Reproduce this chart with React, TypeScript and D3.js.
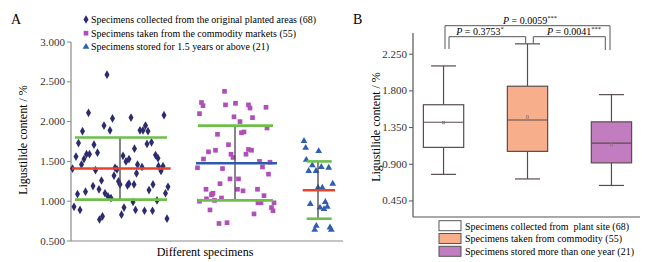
import React from "react";
import * as d3 from "d3";

// ---------- Panel A data (jitter position, ligustilide %) ----------
const groupAX = [107,88.5,164,112.5,131,104,145.5,82.5,110,140,143,148,78.5,94,134.5,147,151.5,76,84,86.5,89.5,81.5,97.5,72.5,95.5,123,126,129,137.5,136.5,142,155.5,158,158.5,161,163,115,117,93,99,101.5,114,118.5,120,127.5,129,134,153,168,77.5,85.5,105,108,111,149,165.5,74,80,124,133,135.5,144.5,152.5,157,121.5,99.5,102.5,167];
const groupAV = [2.59,2.11,2.08,2.04,2.05,1.95,1.95,1.88,1.89,1.89,1.89,1.88,1.73,1.71,1.66,1.72,1.74,1.56,1.53,1.59,1.59,1.46,1.61,1.41,1.39,1.57,1.50,1.53,1.46,1.35,1.43,1.58,1.54,1.44,1.38,1.44,1.42,1.40,1.19,1.15,1.26,1.32,1.25,1.21,1.20,1.22,1.21,1.21,1.18,1.09,1.12,1.10,1.06,1.04,1.14,1.10,0.93,0.89,0.92,0.99,0.89,0.88,0.88,1.01,0.83,0.77,0.81,0.78];

const groupBX = [224.5,201.5,203,225.5,235.5,248.5,250,266,199.5,234,252.5,240,267,217.5,241.5,244,228.5,208.5,215.5,231,246,248.5,251.5,203.5,233,259.5,262.5,270,222.5,197.5,268.5,230,238.5,220,206,237.5,243,257.5,213,211.5,206.5,214.5,221.5,264,258,261,274,271.5,273,210,254,219,227,199.5,212];
const groupBV = [2.38,2.24,2.20,2.21,2.23,2.21,2.17,2.18,2.10,2.06,2.05,2.00,1.92,1.84,1.86,1.87,1.71,1.62,1.64,1.59,1.59,1.65,1.64,1.53,1.55,1.50,1.43,1.49,1.41,1.42,1.34,1.28,1.28,1.22,1.15,1.15,1.13,1.15,1.10,1.08,1.03,1.01,1.04,1.07,0.98,0.98,0.98,0.92,0.88,0.89,0.84,0.72,0.73,1.00,1.09];

const groupCX = [304,305.7,318.7,306.3,312.3,321.3,328.7,308.7,316,332.7,318,322.3,310.3,325.3,320,324,327.3,316.3,314.7,330,331.3];
const groupCV = [1.756,1.67,1.63,1.52,1.45,1.43,1.42,1.38,1.38,1.22,1.17,1.17,0.965,0.99,0.92,0.90,0.93,0.69,0.64,0.67,0.64];

// mean and mean ± SD per group (panel A)
const meanA = [1.41, 1.476, 1.137];
const upperA = [1.80, 1.95, 1.50];
const lowerA = [1.02, 1.01, 0.78];
const centerA = [120, 235, 318];
const meanSpanA = [[72, 170.7], [196, 277], [302.7, 335]];
const sdSpanA = [[75, 167], [198, 273], [306.7, 331.7]];
const meanColorsA = ["#e8432c", "#2e5aa8", "#e8432c"];

const legendA = [
  "Specimens collected from the original planted areas (68)",
  "Specimens taken from the commodity markets (55)",
  "Specimens stored for 1.5 years or above (21)",
];
const legendAWidths = [225, 205, 178];
const ticksA = [0.5, 1.0, 1.5, 2.0, 2.5, 3.0];

// ---------- Panel B data (box plots) ----------
const boxNames = [
  "Specimens collected from  plant site (68)",
  "Specimens taken from commodity (55)",
  "Specimens stored more than one year (21)",
];
const legendBWidths = [164, 157, 169];
const boxMin = [0.776, 0.72, 0.64];
const boxQ1 = [1.107, 1.058, 0.917];
const boxMed = [1.415, 1.443, 1.16];
const boxQ3 = [1.63, 1.857, 1.42];
const boxMax = [2.106, 2.377, 1.754];
const boxMean = [1.41, 1.48, 1.14];
const boxColors = ["#ffffff", "#f7ae8a", "#c27cc0"];
const ticksB = [0.45, 0.9, 1.35, 1.8, 2.25];

const pLabels = ["0.0059", "0.3753", "0.0041"];
const pStars = ["***", "*", "***"];

const FONT = "'Liberation Serif', 'Times New Roman', serif";

export default function App() {
  // Panel A scales
  const xA = d3.scaleLinear().domain([71, 343]).range([71, 343]);
  const yA = d3.scaleLinear().domain([0.5, 3.0]).range([241, 42]);

  // Panel B scales
  const xB = d3.scaleBand().domain(["0", "1", "2"]).range([415, 640]).paddingInner(0.52).paddingOuter(0.1);
  const yB = d3.scaleLinear().domain([0.253, 2.51]).range([217, 33]);

  const diamond = d3.symbol().type(d3.symbolDiamond).size(22)() as string;
  const square = d3.symbol().type(d3.symbolSquare).size(22)() as string;
  const triangle = d3.symbol().type(d3.symbolTriangle).size(20)() as string;

  const navy = "#2c2b6e";
  const purple = "#b04fb8";
  const tri = "#2f5eb4";
  const green = "#6cc04a";
  const axisCol = "#8a8a8a";
  const boxStroke = "#5a4c4c";

  const groups = [
    { xs: groupAX, vs: groupAV, path: diamond, color: navy },
    { xs: groupBX, vs: groupBV, path: square, color: purple },
    { xs: groupCX, vs: groupCV, path: triangle, color: tri },
  ];

  const brackets = [
    { x1: 445, x2: 610, y: 25.7, y1: 49, y2: 50, tx: 530, ty: 24 },
    { x1: 449, x2: 525.7, y: 36.7, y1: 49, y2: 43.3, tx: 480, ty: 35 },
    { x1: 533.3, x2: 605.3, y: 36.7, y1: 43.3, y2: 50, tx: 574, ty: 35 },
  ];

  return (
    <svg width={652} height={262} style={{ position: "absolute", left: 0, top: 0, background: "#fff" }} fontFamily={FONT}>
      {/* ===== Panel A ===== */}
      <text x={11} y={24} fontSize={14}>A</text>
      {legendA.map((t, i) => (
        <g key={i}>
          <path d={groups[i].path} transform={`translate(86,${23 + i * 13.7 - 3.5})`} fill={groups[i].color} />
          <text x={91} y={23 + i * 13.7} fontSize={10.5} textLength={legendAWidths[i]} lengthAdjust="spacingAndGlyphs">{t}</text>
        </g>
      ))}
      <line x1={71} x2={71} y1={yA(3.0)} y2={yA(0.5)} stroke={axisCol} strokeWidth={1.2} />
      <line x1={71} x2={343} y1={yA(0.5)} y2={yA(0.5)} stroke={axisCol} strokeWidth={1.2} />
      {ticksA.map((t) => (
        <g key={t}>
          <line x1={67} x2={71} y1={yA(t)} y2={yA(t)} stroke={axisCol} />
          <text x={65} y={yA(t) + 3.5} fontSize={11} textAnchor="end" fill="#333">{t.toFixed(3)}</text>
        </g>
      ))}
      <text transform="translate(27,140) rotate(-90)" fontSize={12} textAnchor="middle">Ligustilide content / %</text>
      <text x={205} y={256} fontSize={12} textAnchor="middle">Different specimens</text>

      {groups.map((g, gi) =>
        g.xs.map((x, i) => (
          <path key={`${gi}-${i}`} d={g.path} transform={`translate(${xA(x)},${yA(g.vs[i])})`} fill={g.color} />
        ))
      )}
      {meanA.map((m, i) => (
        <g key={i}>
          <line x1={xA(centerA[i])} x2={xA(centerA[i])} y1={yA(upperA[i])} y2={yA(lowerA[i])} stroke="#444" strokeWidth={1.3} />
          <line x1={xA(sdSpanA[i][0])} x2={xA(sdSpanA[i][1])} y1={yA(upperA[i])} y2={yA(upperA[i])} stroke={green} strokeWidth={2.6} />
          <line x1={xA(sdSpanA[i][0])} x2={xA(sdSpanA[i][1])} y1={yA(lowerA[i])} y2={yA(lowerA[i])} stroke={green} strokeWidth={2.6} />
          <line x1={xA(meanSpanA[i][0])} x2={xA(meanSpanA[i][1])} y1={yA(m)} y2={yA(m)} stroke={meanColorsA[i]} strokeWidth={2.6} />
        </g>
      ))}

      {/* ===== Panel B ===== */}
      <text x={353} y={24} fontSize={14}>B</text>
      <line x1={413} x2={413} y1={33} y2={217} stroke="#555" strokeWidth={1.2} />
      <line x1={413} x2={640} y1={217} y2={217} stroke="#555" strokeWidth={1.2} />
      {ticksB.map((t) => (
        <g key={t}>
          <line x1={409} x2={413} y1={yB(t)} y2={yB(t)} stroke="#555" />
          <text x={407} y={yB(t) + 3.5} fontSize={11} textAnchor="end" fill="#333">{t.toFixed(3)}</text>
        </g>
      ))}
      <text transform="translate(380,127) rotate(-90)" fontSize={12} textAnchor="middle">Ligustilide content / %</text>

      {boxNames.map((_, i) => {
        const x0 = xB(String(i)) as number;
        const w = xB.bandwidth();
        const cx = x0 + w / 2;
        return (
          <g key={i}>
            <line x1={cx} x2={cx} y1={yB(boxQ3[i])} y2={yB(boxMax[i])} stroke={boxStroke} strokeWidth={1.2} />
            <line x1={cx} x2={cx} y1={yB(boxQ1[i])} y2={yB(boxMin[i])} stroke={boxStroke} strokeWidth={1.2} />
            <line x1={cx - 12.5} x2={cx + 12.5} y1={yB(boxMax[i])} y2={yB(boxMax[i])} stroke={boxStroke} strokeWidth={1.2} />
            <line x1={cx - 12.5} x2={cx + 12.5} y1={yB(boxMin[i])} y2={yB(boxMin[i])} stroke={boxStroke} strokeWidth={1.2} />
            <rect x={x0} y={yB(boxQ3[i])} width={w} height={yB(boxQ1[i]) - yB(boxQ3[i])} fill={boxColors[i]} stroke={boxStroke} strokeWidth={1.2} />
            <line x1={x0} x2={x0 + w} y1={yB(boxMed[i])} y2={yB(boxMed[i])} stroke={boxStroke} strokeWidth={1.2} />
            <rect x={cx - 1.2} y={yB(boxMean[i]) - 1.2} width={2.4} height={2.4} fill="none" stroke="#8a7070" strokeWidth={0.6} />
          </g>
        );
      })}

      {brackets.map((b, i) => (
        <g key={i}>
          <path d={`M${b.x1},${b.y1}V${b.y}H${b.x2}V${b.y2}`} fill="none" stroke="#555" strokeWidth={1} />
          <text x={b.tx} y={b.ty} fontSize={10} textAnchor="middle">
            <tspan fontStyle="italic">P</tspan>
            <tspan> = {pLabels[i]}</tspan>
            <tspan fontSize={6.5} dy={-4}>{pStars[i]}</tspan>
          </text>
        </g>
      ))}

      {boxNames.map((t, i) => (
        <g key={i}>
          <rect x={439} y={220.7 + i * 12.8} width={22} height={10} fill={boxColors[i]} stroke="#555" strokeWidth={1} />
          <text x={465} y={229.5 + i * 12.8} fontSize={10.5} style={{ whiteSpace: "pre" }} textLength={legendBWidths[i]} lengthAdjust="spacingAndGlyphs">{t}</text>
        </g>
      ))}
    </svg>
  );
}
